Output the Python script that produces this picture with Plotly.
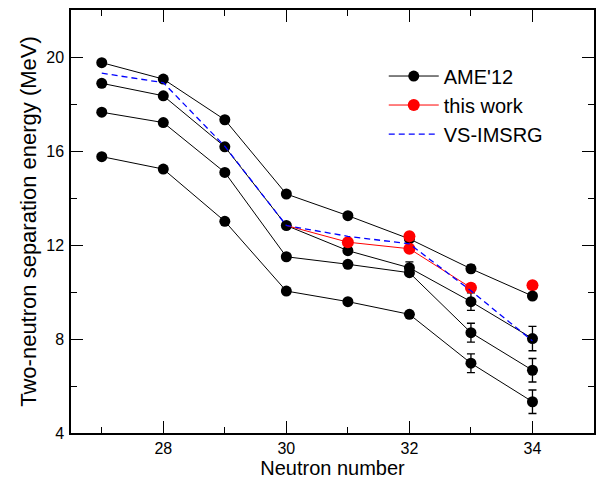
import plotly.graph_objects as go

# ---- data ----
neutrons = [27, 28, 29, 30, 31, 32, 33, 34]

ame_a = [19.76, 19.06, 17.33, 14.17, 13.25, 12.26, 10.99, 9.83]
ame_a_err = [0, 0, 0, 0, 0, 0.10, 0.15, 0.10]
ame_b = [18.88, 18.35, 16.18, 12.83, 11.76, 11.03, 9.59, 8.02]
ame_b_err = [0, 0, 0, 0, 0, 0.25, 0.37, 0.52]
ame_c = [17.65, 17.21, 15.09, 11.50, 11.18, 10.82, 8.27, 6.67]
ame_c_err = [0, 0, 0, 0, 0, 0.10, 0.40, 0.50]
ame_d = [15.76, 15.23, 13.01, 10.04, 9.59, 9.05, 6.97, 5.33]
ame_d_err = [0, 0, 0, 0, 0, 0.05, 0.40, 0.50]

work_n = [30, 31, 32, 33]
work_s2n = [12.83, 12.12, 11.84, 10.18]
work_err = [0, 0.08, 0.08, 0.17]

work_extra_n = [32, 34]
work_extra_s2n = [12.37, 10.29]
work_extra_err = [0.10, 0.15]

imsrg = [19.31, 18.91, 16.20, 12.83, 12.37, 12.05, 10.05, 7.92]

x_ticks = [28, 30, 32, 34]
y_ticks = [4, 8, 12, 16, 20]

FONT = "Liberation Sans, Arial, sans-serif"
MS = 11

fig = go.Figure()

# isolated red point at N=34 (drawn beneath black)
fig.add_trace(go.Scatter(
    x=work_extra_n[1:], y=work_extra_s2n[1:], mode="markers",
    marker=dict(color="#ff0000", size=MS + 1),
    error_y=dict(type="data", array=work_extra_err[1:], color="#ff0000", thickness=1.3, width=4),
    showlegend=False))

for i, (vals, errs) in enumerate([(ame_a, ame_a_err), (ame_b, ame_b_err),
                                   (ame_c, ame_c_err), (ame_d, ame_d_err)]):
    fig.add_trace(go.Scatter(
        x=neutrons, y=vals, mode="lines+markers", name="AME'12",
        line=dict(color="black", width=1),
        marker=dict(color="black", size=MS),
        error_y=dict(type="data", array=errs, color="black", thickness=1.3, width=4),
        showlegend=(i == 0), legendrank=1))

# red connecting segment from the N=30 value (no marker there)
fig.add_trace(go.Scatter(
    x=work_n[:2], y=work_s2n[:2], mode="lines",
    line=dict(color="#ff0000", width=1), showlegend=False, hoverinfo="skip"))

fig.add_trace(go.Scatter(
    x=work_n[1:], y=work_s2n[1:], mode="lines+markers", name="this work",
    line=dict(color="#ff0000", width=1),
    marker=dict(color="#ff0000", size=MS + 1),
    error_y=dict(type="data", array=work_err[1:], color="#ff0000", thickness=1.3, width=4),
    showlegend=True, legendrank=2))

fig.add_trace(go.Scatter(
    x=work_extra_n[:1], y=work_extra_s2n[:1], mode="markers",
    marker=dict(color="#ff0000", size=MS + 1),
    error_y=dict(type="data", array=work_extra_err[:1], color="black", thickness=1.3, width=4),
    showlegend=False))

fig.add_trace(go.Scatter(
    x=neutrons, y=imsrg, mode="lines", name="VS-IMSRG",
    line=dict(color="#0000ff", width=1.3, dash="6px,4px"),
    showlegend=True, legendrank=3))

axis_common = dict(
    showline=True, linecolor="black", linewidth=1.5, mirror="allticks",
    ticks="inside", ticklen=12, tickwidth=1.3, tickcolor="black",
    showgrid=False, zeroline=False,
    tickfont=dict(family=FONT, size=16, color="black"),
)

fig.update_layout(
    width=599, height=479,
    margin=dict(l=71, r=3, t=10, b=45),
    plot_bgcolor="white", paper_bgcolor="white",
    font=dict(family=FONT, color="black"),
    xaxis=dict(range=[26.5, 35], tickvals=x_ticks,
               minor=dict(dtick=1, tick0=27, ticklen=6, tickwidth=1.3, tickcolor="black", ticks="inside"),
               title=dict(text="Neutron number", font=dict(family=FONT, size=20), standoff=5),
               **axis_common),
    yaxis=dict(range=[4, 22], tickvals=y_ticks, ticklabelstandoff=2,
               minor=dict(dtick=2, tick0=4, ticklen=6, tickwidth=1.3, tickcolor="black", ticks="inside"),
               title=dict(text="Two-neutron separation energy (MeV)", font=dict(family=FONT, size=22), standoff=4),
               **axis_common),
    legend=dict(x=0.598, y=0.89, xanchor="left", yanchor="top",
                bgcolor="rgba(0,0,0,0)", font=dict(family=FONT, size=20),
                tracegroupgap=0, itemwidth=50),
)

fig.write_html("out.html")
